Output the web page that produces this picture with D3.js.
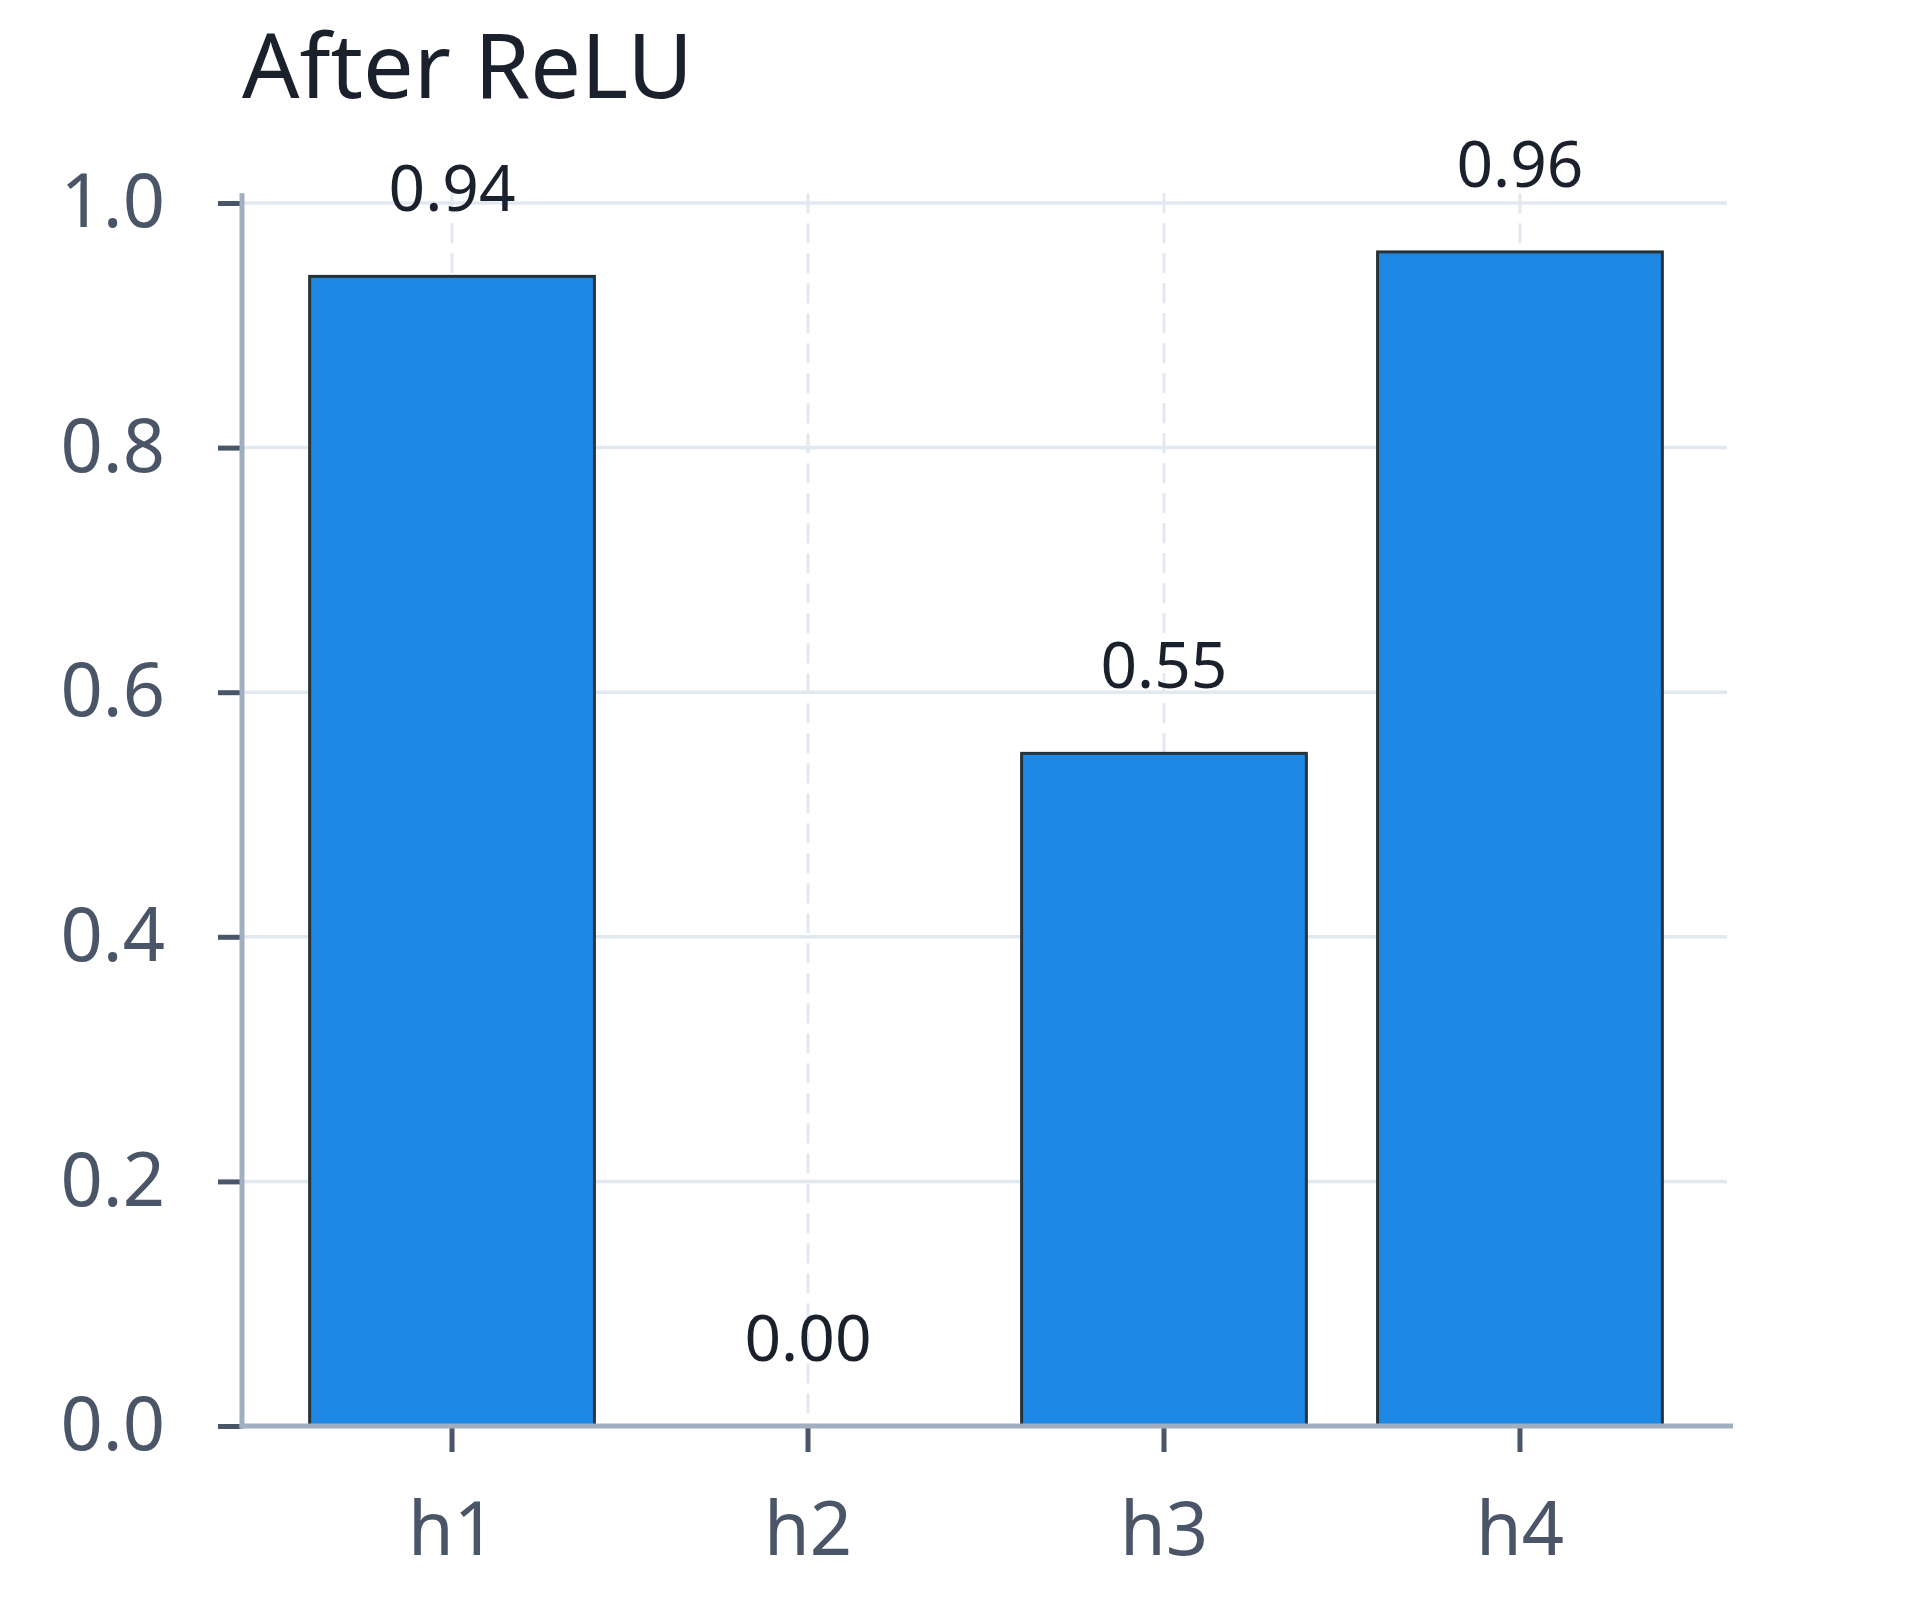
<!DOCTYPE html>
<html>
<head>
<meta charset="utf-8">
<script src="https://cdn.jsdelivr.net/npm/d3@7"></script>
<style>
  body { margin: 0; background: #fff; }
  svg { display: block; font-family: "Noto Sans", sans-serif; }
  .tick line { stroke: #4a5568; stroke-width: 5; }
  .tick text { fill: #4a5568; font-size: 74px; font-family: "Noto Sans", sans-serif; }
</style>
</head>
<body>
<div class="chart"></div>
<script>
// data
const categories = ["h1", "h2", "h3", "h4"];
const values = [0.94, 0.00, 0.55, 0.96];
const yTicks = [0, 0.2, 0.4, 0.6, 0.8, 1.0];
const title = "After ReLU";

var width = 1920, height = 1600;
var plot = { left: 242, right: 1730, bottom: 1426 };

var svg = d3.select(".chart").append("svg")
    .attr("width", width)
    .attr("height", height);

const xScale = d3.scaleBand()
    .domain(categories)
    .range([plot.left, plot.right])
    .paddingInner(0.2)
    .paddingOuter(0.19);

// headroom like matplotlib: max * 1.05
const yScale = d3.scaleLinear()
    .domain([0, d3.max(values) * 1.05])
    .range([plot.bottom, plot.bottom - 1223 * d3.max(values) * 1.05]);

const yTop = yScale.range()[1];

// grid
svg.append("g")
    .selectAll("line")
    .data(yTicks)
    .join("line")
    .attr("x1", plot.left)
    .attr("x2", plot.right - 3)
    .attr("y1", d => yScale(d))
    .attr("y2", d => yScale(d))
    .attr("stroke", "#e2e8f0")
    .attr("stroke-width", 3.5);

svg.append("g")
    .selectAll("line")
    .data(categories)
    .join("line")
    .attr("x1", d => xScale(d) + xScale.bandwidth() / 2)
    .attr("x2", d => xScale(d) + xScale.bandwidth() / 2)
    .attr("y1", yTop)
    .attr("y2", plot.bottom)
    .attr("stroke", "#e2e8f0")
    .attr("stroke-width", 3)
    .attr("stroke-dasharray", "20,10");

// bars
svg.append("g")
    .selectAll("rect")
    .data(values)
    .join("rect")
    .attr("x", (d, i) => xScale(categories[i]))
    .attr("y", d => yScale(d))
    .attr("width", xScale.bandwidth())
    .attr("height", d => yScale(0) - yScale(d))
    .attr("fill", "#1e88e5")
    .attr("stroke", d => d > 0 ? "#263238" : "none")
    .attr("stroke-width", 3);

// value labels
svg.append("g")
    .selectAll("text")
    .data(values)
    .join("text")
    .attr("x", (d, i) => xScale(categories[i]) + xScale.bandwidth() / 2)
    .attr("y", d => yScale(d) - 65)
    .attr("text-anchor", "middle")
    .attr("fill", "#1a202c")
    .attr("font-size", 64)
    .text(d => d.toFixed(2));

// axes
const yAxis = d3.axisLeft(yScale)
    .tickValues(yTicks)
    .tickFormat(d3.format(".1f"))
    .tickSize(24)
    .tickPadding(53);

svg.append("g")
    .attr("class", "axis y-axis")
    .attr("transform", `translate(${plot.left}, 0)`)
    .call(yAxis)
    .call(g => g.select(".domain").remove());

const xAxis = d3.axisBottom(xScale)
    .tickSize(24)
    .tickPadding(50);

svg.append("g")
    .attr("class", "axis x-axis")
    .attr("transform", `translate(0, ${plot.bottom + 2})`)
    .call(xAxis)
    .call(g => g.select(".domain").remove());

// spines
svg.append("line")
    .attr("x1", plot.left).attr("x2", plot.left)
    .attr("y1", yTop).attr("y2", plot.bottom + 2.5)
    .attr("stroke", "#a0aec0")
    .attr("stroke-width", 5);

svg.append("line")
    .attr("x1", plot.left - 2.5).attr("x2", plot.right + 3)
    .attr("y1", plot.bottom).attr("y2", plot.bottom)
    .attr("stroke", "#a0aec0")
    .attr("stroke-width", 5);

svg.append("text")
    .attr("x", plot.left)
    .attr("y", 98)
    .attr("fill", "#1a202c")
    .attr("font-size", 90)
    .text(title);
</script>
</body>
</html>
